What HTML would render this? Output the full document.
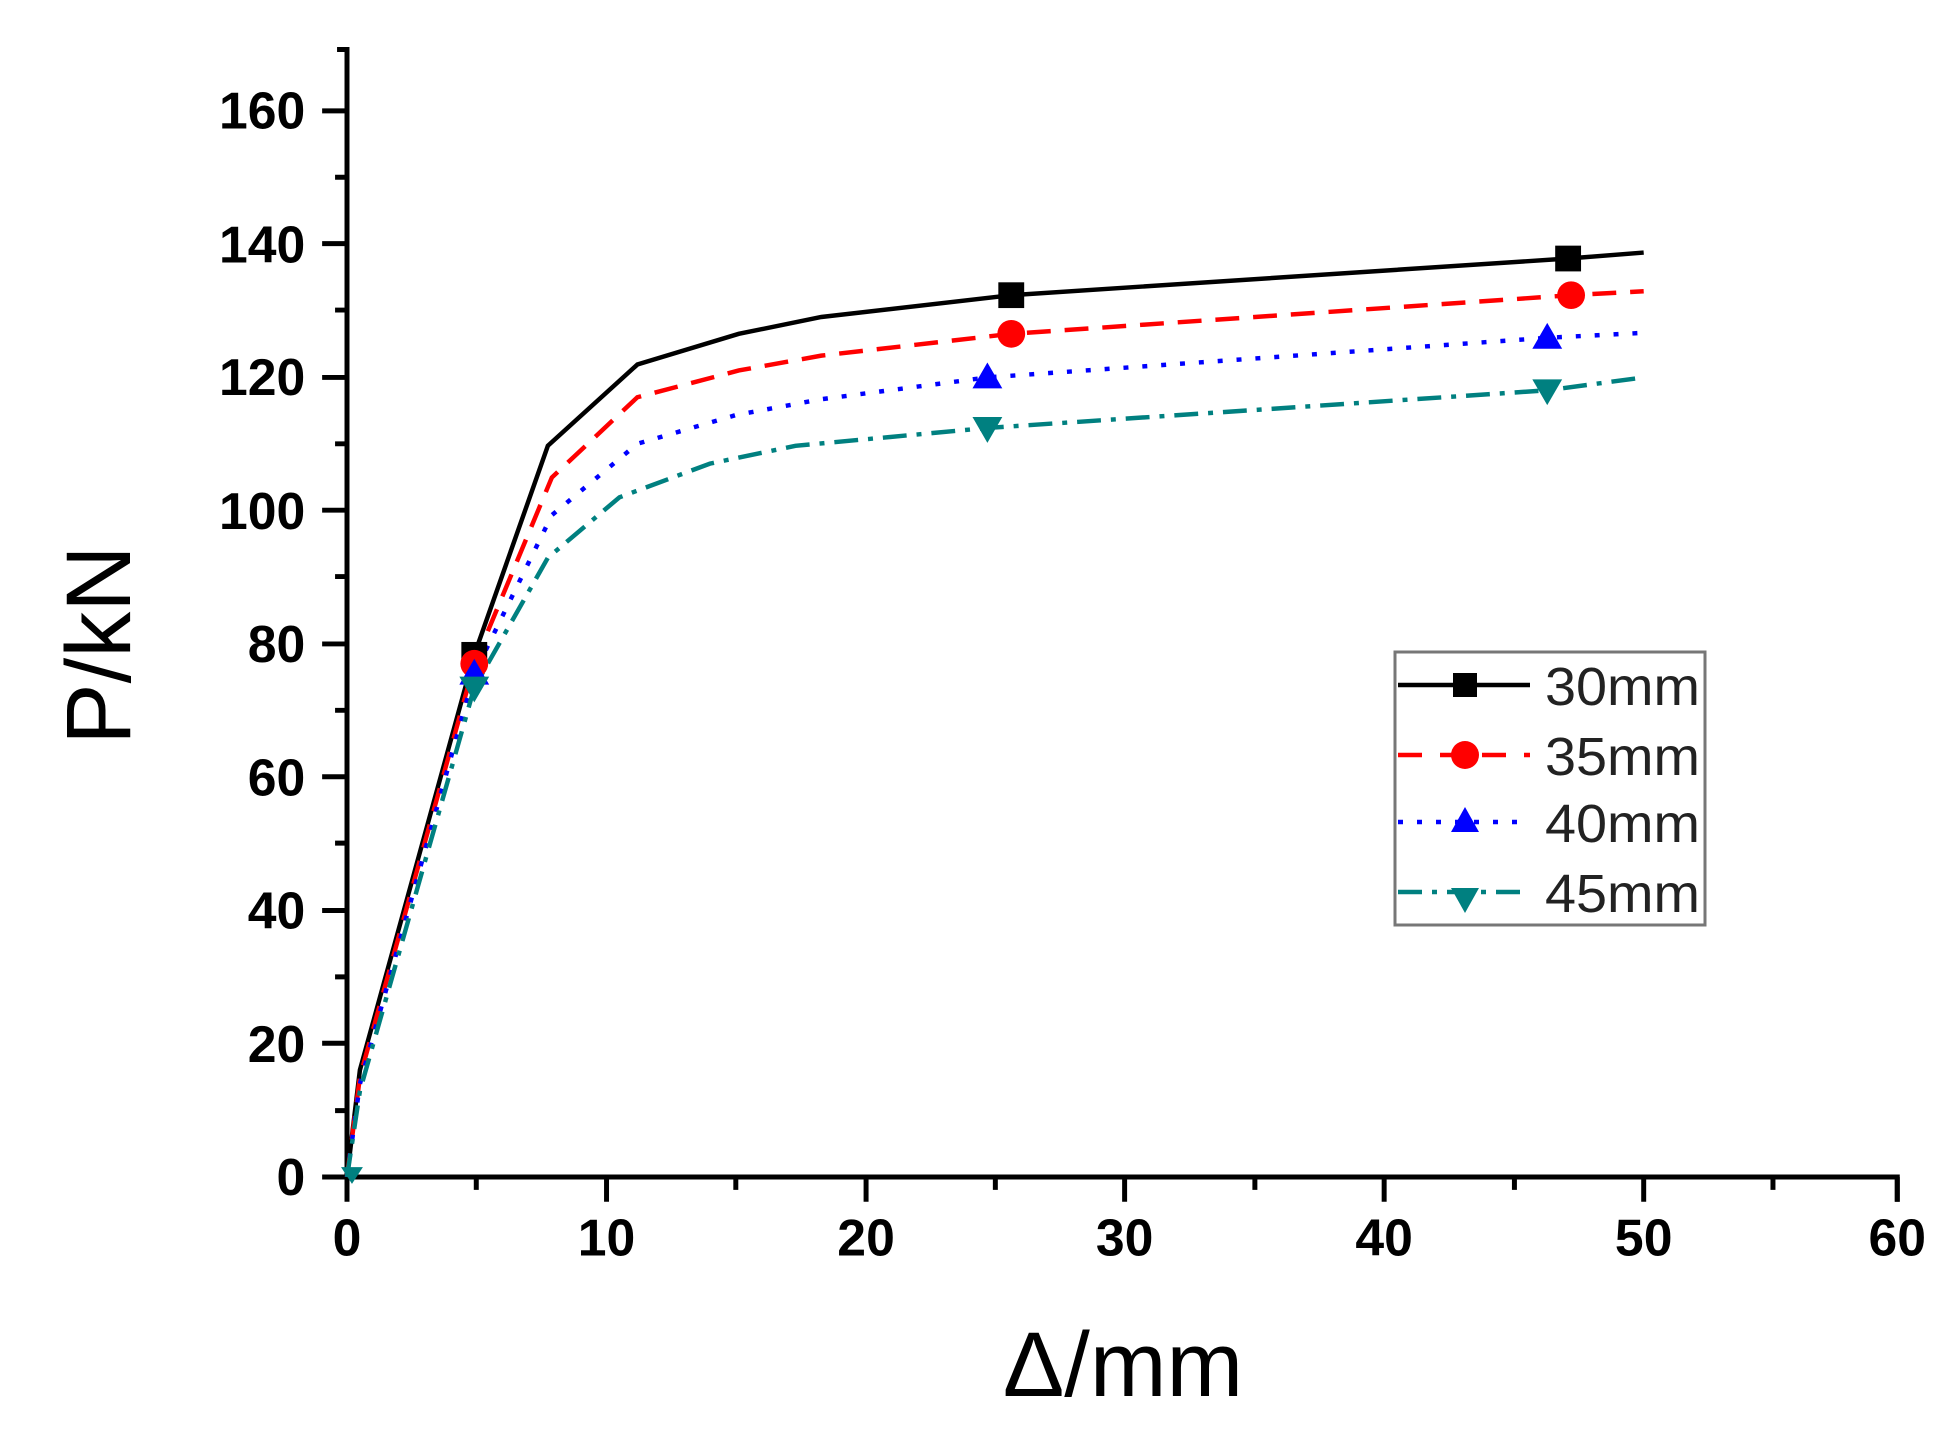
<!DOCTYPE html>
<html><head><meta charset="utf-8"><style>html,body{margin:0;padding:0;background:#fff}svg{display:block}</style></head>
<body>
<svg width="1947" height="1440" viewBox="0 0 1947 1440" xmlns="http://www.w3.org/2000/svg" font-family="'Liberation Sans', Arial, sans-serif">
<g transform="matrix(0.9944,0,0,0.9908,1.94,4.88)">
<g stroke="#000" stroke-width="5" fill="none" stroke-linecap="butt">
<path d="M337,45 H347 V1183 H1906 V1208"/>
<path d="M322,1183H347 M322,1048H347 M322,914H347 M322,779H347 M322,645H347 M322,510H347 M322,376H347 M322,241H347 M322,107H347"/>
<path d="M335,1116H347 M335,981H347 M335,846H347 M335,712H347 M335,577H347 M335,443H347 M335,308H347 M335,174H347"/>
<path d="M347,1183V1208 M608,1183V1208 M869,1183V1208 M1129,1183V1208 M1390,1183V1208 M1651,1183V1208 M1906,1183V1208"/>
<path d="M477,1183V1196 M738,1183V1196 M999,1183V1196 M1260,1183V1196 M1521,1183V1196 M1781,1183V1196"/>
</g>
<g font-size="52" font-weight="bold" text-anchor="end" fill="#000">
<text x="305" y="1201">0</text><text x="305" y="1067">20</text><text x="305" y="932">40</text>
<text x="305" y="798">60</text><text x="305" y="663">80</text><text x="305" y="529">100</text>
<text x="305" y="394">120</text><text x="305" y="260">140</text><text x="305" y="125">160</text>
</g>
<g font-size="52" font-weight="bold" text-anchor="middle" fill="#000">
<text x="347" y="1262">0</text><text x="608" y="1262">10</text><text x="869" y="1262">20</text>
<text x="1129" y="1262">30</text><text x="1390" y="1262">40</text><text x="1651" y="1262">50</text><text x="1906" y="1262">60</text>
</g>
<g fill="none" stroke-width="4.5">
<polyline stroke="#000" points="347,1183 360,1075 475,656 549,445 639,363 741,332 824,315 1015,293 1575,256 1651,250"/>
<polyline stroke="#f00" stroke-dasharray="24,14" points="347,1183 360,1082 475,665 553,477 639,396 741,369 824,354 1015,332 1578,293 1651,289"/>
<polyline stroke="#00f" stroke-dasharray="5,14" points="347,1183 360,1089 475,675 553,515 639,443 738,414 824,398 991,376 1554,336 1651,331"/>
<polyline stroke="#008080" stroke-dasharray="24,10,5,10" points="347,1183 360,1096 475,689 549,558 621,497 712,463 798,445 991,427 1554,389 1651,376"/>
</g>
<g fill="#000"><rect x="462" y="643" width="26" height="26"/><rect x="1002" y="280" width="26" height="26"/><rect x="1562" y="243" width="26" height="26"/></g>
<g fill="#f00"><circle cx="475" cy="665" r="14"/><circle cx="1015" cy="332" r="14"/><circle cx="1578" cy="293" r="14"/></g>
<g fill="#00f"><path d="M475,660 l15,26 h-30z"/><path d="M991,361 l15,26 h-30z"/><path d="M1554,321 l15,26 h-30z"/></g>
<g fill="#008080"><path d="M475,704 l15,-26 h-30z"/><path d="M991,442 l15,-26 h-30z"/><path d="M1554,404 l15,-26 h-30z"/><path d="M352,1190 l11,-17 h-22z"/></g>
</g>
<text transform="translate(130,645) rotate(-90)" font-size="92" text-anchor="middle" fill="#000">P/kN</text>
<text x="1123" y="1396" font-size="92" text-anchor="middle" fill="#000">Δ/mm</text>

<rect x="1395" y="652" width="310" height="273" fill="#fff" stroke="#777" stroke-width="3"/>
<g stroke-width="4.5" fill="none">
<line x1="1398" y1="685" x2="1530" y2="685" stroke="#000"/>
<line x1="1398" y1="755" x2="1530" y2="755" stroke="#f00" stroke-dasharray="24,18"/>
<line x1="1398" y1="822" x2="1530" y2="822" stroke="#00f" stroke-dasharray="5,14"/>
<line x1="1398" y1="892" x2="1530" y2="892" stroke="#008080" stroke-dasharray="24,10,5,10"/>
</g>
<rect x="1453" y="673" width="24" height="24" fill="#000"/>
<circle cx="1465" cy="755" r="14" fill="#f00"/>
<path d="M1465,807 l14,25 h-28z" fill="#00f"/>
<path d="M1465,913 l14,-25 h-28z" fill="#008080"/>
<g font-size="54" fill="#222">
<text x="1545" y="705" textLength="155" lengthAdjust="spacingAndGlyphs">30mm</text>
<text x="1545" y="775" textLength="155" lengthAdjust="spacingAndGlyphs">35mm</text>
<text x="1545" y="842" textLength="155" lengthAdjust="spacingAndGlyphs">40mm</text>
<text x="1545" y="912" textLength="155" lengthAdjust="spacingAndGlyphs">45mm</text>
</g>
</svg>
</body></html>
